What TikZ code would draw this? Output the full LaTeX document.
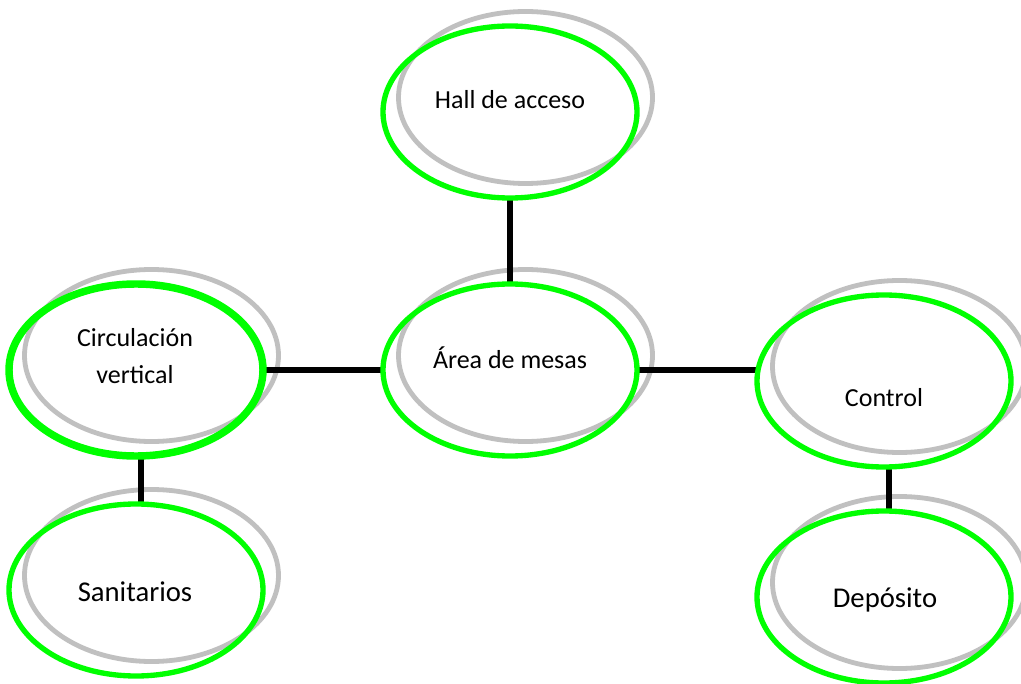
\documentclass[tikz,border=0pt]{standalone}
\usepackage{fontspec}
\setmainfont{Carlito}
\usetikzlibrary{shapes.geometric}
\definecolor{ringgray}{RGB}{192,192,192}
\definecolor{ringgreen}{RGB}{0,255,0}
\tikzset{
  ring/.style={ellipse, inner sep=0pt, outer sep=0pt,
    minimum width=190.5pt, minimum height=129pt},
  backring/.style={draw=ringgray, line width=3.6pt},
  frontring/.style={draw=ringgreen, line width=4pt},
  heavyring/.style={draw=ringgreen, line width=5.6pt},
  link/.style={draw=black, line width=3.8pt},
  lbl/.style={inner sep=0pt, align=center, font=\fontsize{19.5}{27.75}\selectfont},
  biglbl/.style={lbl, font=\fontsize{21.5}{26}\selectfont}
}
\begin{document}
\begin{tikzpicture}[x=0.75pt, y=-0.75pt]
  \fill[white] (0,0) rectangle (1021,684);
  \useasboundingbox (0,0) rectangle (1021,684);

  % room outlines (shape only; strokes follow)
  \node[ring] (hall) at (510,112) {};
  \node[ring] (area) at (510,370) {};
  \node[ring] (circ) at (136,370) {};
  \node[ring] (ctrl) at (884,381) {};
  \node[ring] (san)  at (136,590) {};
  \node[ring] (dep)  at (884,597) {};

  % grey shadow rings, offset up and right
  \foreach \n in {hall,area,circ,ctrl,san,dep}
    \draw[backring] ([shift={(15.5,-14.5)}]\n.center) ellipse [x radius=95.25pt, y radius=64.5pt];

  % connectors
  \draw[link] (hall.south) -- (area.north);
  \draw[link] (circ.east) -- (area.west);
  \draw[link] (area.east) -- (ctrl.west |- area.east);
  \draw[link] ([xshift=3.75pt]circ.south) -- ([xshift=3.75pt]san.north);
  \draw[link] ([xshift=3.75pt]ctrl.south) -- ([xshift=3.75pt]dep.north);

  % green rings
  \foreach \n in {hall,area,ctrl,san,dep}
    \draw[frontring] (\n.center) ellipse [x radius=95.25pt, y radius=64.5pt];
  \draw[heavyring] (circ.center) ellipse [x radius=95.25pt, y radius=64.5pt];

  % labels
  \node[lbl] (hallt) at (510,100) {Hall de acceso};
  \node[lbl] (areat) at (510,358) {Área de mesas};
  \node[lbl] (circt) at (135,356) {Circulación\\vertical};
  \node[lbl] (ctrlt) at (884,398) {Control};
  \node[biglbl] (sant) at (135,592) {Sanitarios};
  \node[biglbl] (dept) at (885,600) {Depósito};
\end{tikzpicture}
\end{document}
